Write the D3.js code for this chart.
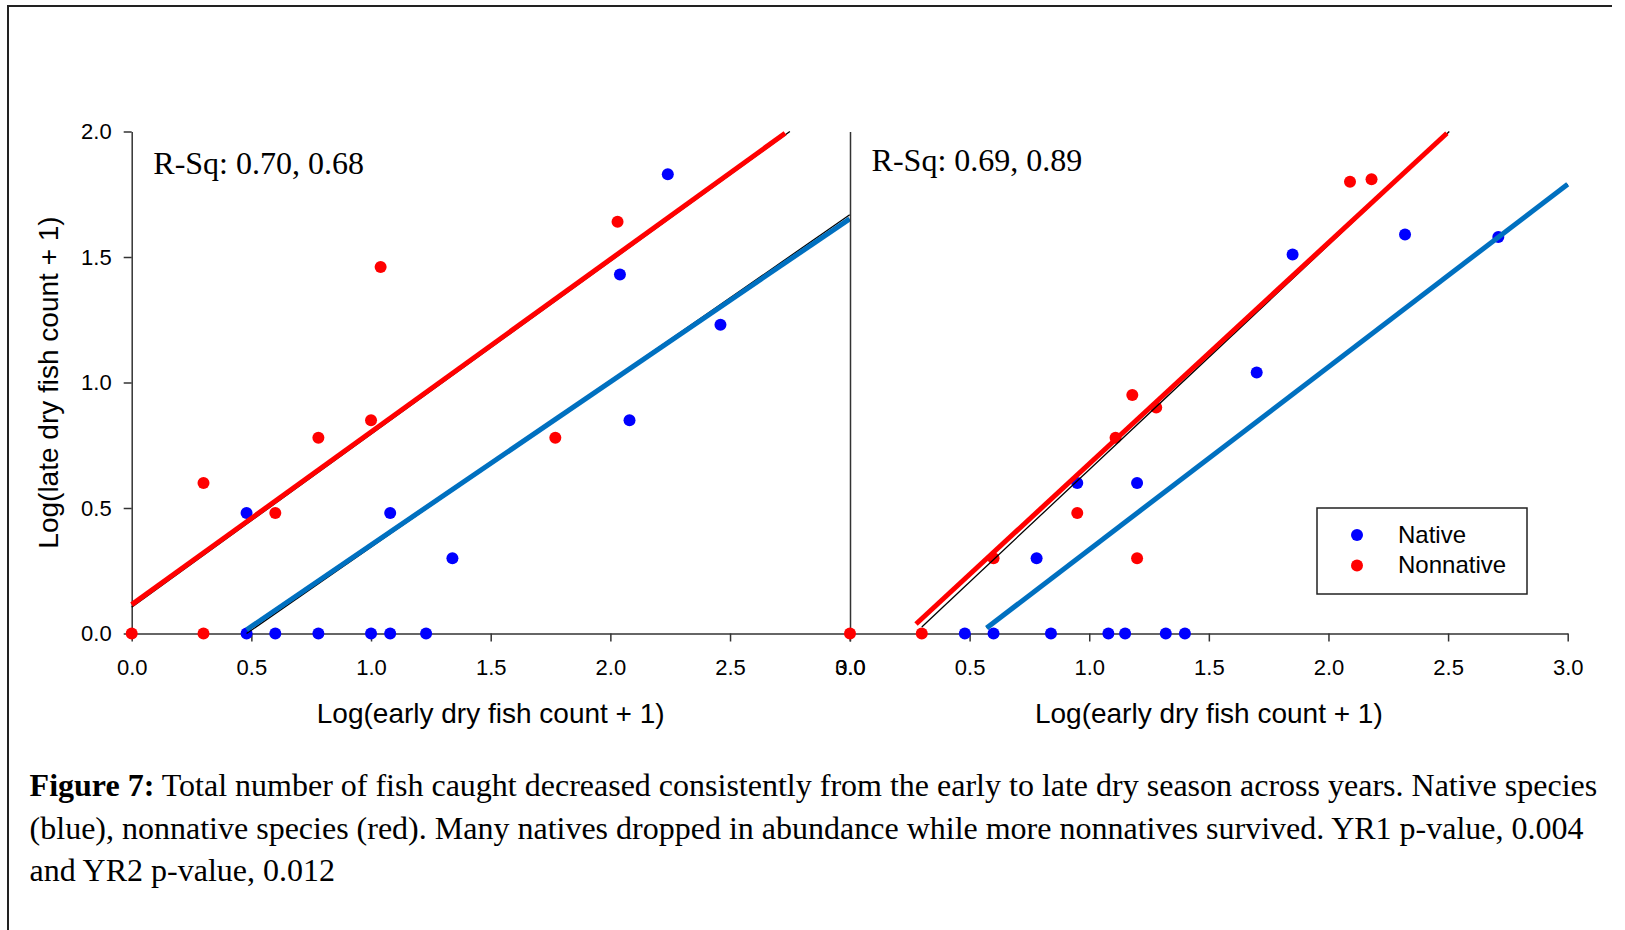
<!DOCTYPE html>
<html>
<head>
<meta charset="utf-8">
<script src="https://cdn.jsdelivr.net/npm/d3@7"></script>
<style>
  body { margin: 0; background: #fff; }
  svg { display: block; }
</style>
</head>
<body>
<div id="chart"></div>
<script>
// axis ticks
const xTicks = [0, 0.5, 1.0, 1.5, 2.0, 2.5, 3.0];
const yTicks = [0, 0.5, 1.0, 1.5, 2.0];

// YR1 (left panel) points: [log early count + 1, log late count + 1]
const yr1Native = [[0.48, 0.48], [0.48, 0], [0.60, 0], [0.78, 0], [1.0, 0], [1.08, 0], [1.08, 0.48],
  [1.23, 0], [1.34, 0.30], [2.04, 1.43], [2.08, 0.85], [2.24, 1.83], [2.46, 1.23]];
const yr1Nonnative = [[0, 0], [0.30, 0], [0.30, 0.60], [0.60, 0.48], [0.78, 0.78], [1.0, 0.85],
  [1.04, 1.46], [1.77, 0.78], [2.03, 1.64]];

// YR2 (right panel) points
const yr2Native = [[0.48, 0], [0.60, 0], [0.84, 0], [1.08, 0], [1.15, 0], [1.32, 0], [1.40, 0],
  [0.78, 0.30], [0.95, 0.60], [1.20, 0.60], [1.70, 1.04], [1.85, 1.51], [2.32, 1.59], [2.71, 1.58]];
const yr2Nonnative = [[0, 0], [0.30, 0], [0.60, 0.30], [0.95, 0.48], [1.11, 0.78], [1.18, 0.95],
  [1.28, 0.90], [1.20, 0.30], [2.09, 1.80], [2.18, 1.81]];

// regression lines (thin black) and the thick coloured lines drawn over them
const yr1NativeReg = [[0.48, 0.0], [3.0, 1.668]];
const yr1NonnativeReg = [[0.0, 0.105], [2.75, 2.0]];
const yr1NativeFit = [[0.48, 0.015], [3.0, 1.652]];
const yr1NonnativeFit = [[0.0, 0.115], [2.73, 1.993]];

const yr2NativeReg = [[0.571, 0.022], [3.0, 1.79]];
const yr2NonnativeReg = [[0.30, 0.026], [2.505, 2.0]];
const yr2NativeFit = [[0.571, 0.022], [3.0, 1.79]];
const yr2NonnativeFit = [[0.276, 0.038], [2.495, 1.993]];

const rsqLabels = ["R-Sq: 0.70, 0.68", "R-Sq: 0.69, 0.89"];
const legendLabels = ["Native", "Nonnative"];
const captionLines = [
  " Total number of fish caught decreased consistently from the early to late dry season across years. Native species",
  "(blue), nonnative species (red). Many natives dropped in abundance while more nonnatives survived. YR1 p-value, 0.004",
  "and YR2 p-value, 0.012"
];

const width = 1625;
const height = 930;
const sans = "'Liberation Sans', Arial, sans-serif";
const serif = "'Liberation Serif', 'Times New Roman', serif";
const axisColor = "#333";

const svg = d3.select("#chart")
  .append("svg")
  .attr("width", width)
  .attr("height", height)
  .style("background", "#fff");

// frame (left and top edges)
svg.append("path")
  .attr("d", "M8,930 V6 H1612")
  .attr("fill", "none")
  .attr("stroke", "#222")
  .attr("stroke-width", 2);

const y = d3.scaleLinear().domain([0, 2]).range([633.5, 131.5]);
const x1 = d3.scaleLinear().domain([0, 3]).range([131.7, 849.7]);
const x2 = d3.scaleLinear().domain([0, 3]).range([850, 1567.7]);

function drawPanel(x, native, nonnative, regs, fits, rsq, rsqY, leftAxis) {
  const g = svg.append("g");

  // x axis
  g.append("g")
    .attr("transform", `translate(0,${y(0)})`)
    .call(d3.axisBottom(x).tickValues(xTicks).tickFormat(d3.format(".1f"))
      .tickSize(8).tickSizeOuter(0).tickPadding(18))
    .call(a => a.selectAll("path, line").attr("stroke", axisColor).attr("stroke-width", 1.5))
    .call(a => a.selectAll("text").attr("fill", "#000")
      .style("font-family", sans).style("font-size", "22px"));

  // y axis
  const yAxis = leftAxis
    ? d3.axisLeft(y).tickValues(yTicks).tickFormat(d3.format(".1f")).tickSize(8).tickSizeOuter(0).tickPadding(12)
    : d3.axisLeft(y).tickValues([]).tickSizeOuter(0);
  g.append("g")
    .attr("transform", `translate(${x(0)},0)`)
    .call(yAxis)
    .call(a => a.selectAll("path, line").attr("stroke", axisColor).attr("stroke-width", 1.5))
    .call(a => a.selectAll("text").attr("fill", "#000")
      .style("font-family", sans).style("font-size", "22px"));

  // x title
  g.append("text")
    .attr("x", (x.range()[0] + x.range()[1]) / 2)
    .attr("y", 723)
    .attr("text-anchor", "middle")
    .style("font-family", sans)
    .style("font-size", "28px")
    .text("Log(early dry fish count + 1)");

  // points
  g.append("g").selectAll("circle")
    .data(native)
    .join("circle")
    .attr("cx", d => x(d[0]))
    .attr("cy", d => y(d[1]))
    .attr("r", 6)
    .attr("fill", "#0000ff");

  g.append("g").selectAll("circle")
    .data(nonnative)
    .join("circle")
    .attr("cx", d => x(d[0]))
    .attr("cy", d => y(d[1]))
    .attr("r", 6)
    .attr("fill", "#ff0000");

  const line = d3.line().x(d => x(d[0])).y(d => y(d[1]));

  // thin black regression lines
  g.append("g").selectAll("path")
    .data(regs)
    .join("path")
    .attr("d", line)
    .attr("fill", "none")
    .attr("stroke", "#000")
    .attr("stroke-width", 1.3);

  // thick coloured lines
  g.append("g").selectAll("path")
    .data(fits)
    .join("path")
    .attr("d", d => line(d.pts))
    .attr("fill", "none")
    .attr("stroke", d => d.color)
    .attr("stroke-width", 5);

  g.append("text")
    .attr("x", x(0) + 21.6)
    .attr("y", rsqY)
    .style("font-family", serif)
    .style("font-size", "32px")
    .text(rsq);
}

drawPanel(x1, yr1Native, yr1Nonnative,
  [yr1NativeReg, yr1NonnativeReg],
  [{ pts: yr1NativeFit, color: "#0070c0" }, { pts: yr1NonnativeFit, color: "#ff0000" }],
  rsqLabels[0], 173.6, true);

drawPanel(x2, yr2Native, yr2Nonnative,
  [yr2NativeReg, yr2NonnativeReg],
  [{ pts: yr2NativeFit, color: "#0070c0" }, { pts: yr2NonnativeFit, color: "#ff0000" }],
  rsqLabels[1], 171.4, false);

// y title
svg.append("text")
  .attr("transform", "translate(48,382.5) rotate(-90)")
  .attr("text-anchor", "middle")
  .attr("dy", "0.35em")
  .style("font-family", sans)
  .style("font-size", "28px")
  .text("Log(late dry fish count + 1)");

// legend
const legend = svg.append("g").attr("transform", "translate(1317,508)");
legend.append("rect")
  .attr("width", 210)
  .attr("height", 86)
  .attr("fill", "#fff")
  .attr("stroke", "#222")
  .attr("stroke-width", 1.5);
const legendColors = ["#0000ff", "#ff0000"];
legendLabels.forEach((label, i) => {
  legend.append("circle")
    .attr("cx", 40)
    .attr("cy", 27 + i * 30.4)
    .attr("r", 6)
    .attr("fill", legendColors[i]);
  legend.append("text")
    .attr("x", 81)
    .attr("y", 35 + i * 30.4)
    .style("font-family", sans)
    .style("font-size", "24px")
    .text(label);
});

// caption
const caption = svg.append("g")
  .style("font-family", serif)
  .style("font-size", "32px");
captionLines.forEach((lineText, i) => {
  const t = caption.append("text")
    .attr("x", 29.6)
    .attr("y", 796 + i * 42.5);
  if (i === 0) {
    t.append("tspan").style("font-weight", "bold").text("Figure 7:");
  }
  t.append("tspan").text(lineText);
});
</script>
</body>
</html>
